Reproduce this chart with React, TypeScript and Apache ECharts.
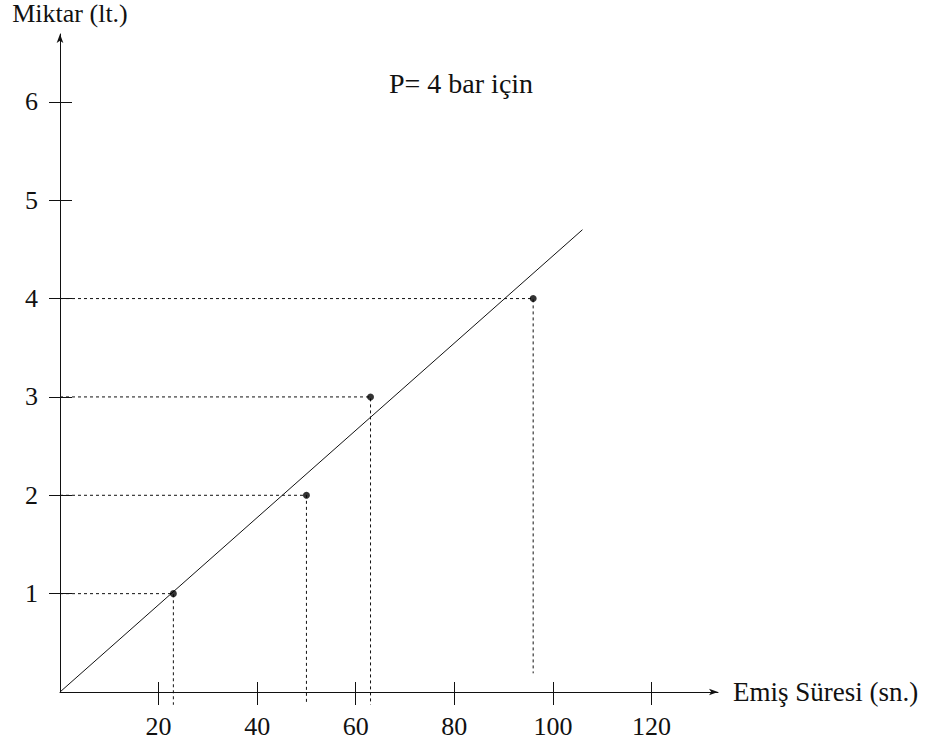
import React, { useEffect, useRef } from "react";
import * as echarts from "echarts";

const xTicks = [20, 40, 60, 80, 100, 120];
const yTicks = [1, 2, 3, 4, 5, 6];
const durations = [23, 50, 63, 96];
const volumes = [1, 2, 3, 4];
const guideBottoms = [-0.13, -0.13, -0.13, 0.19];
const fitX = [0, 106];
const fitY = [0, 4.7];

const titleText = "P= 4 bar için";
const xName = "Emiş Süresi (sn.)";
const yName = "Miktar (lt.)";

const X_MAX = 133.5;
const Y_MAX = 6.69;
const FONT = "Liberation Serif";
const INK = "#111";

export default function App() {
  const ref = useRef<HTMLDivElement>(null);
  useEffect(() => {
    if (!ref.current) return;
    const chart = echarts.init(ref.current, undefined, { renderer: "svg" });

    const guideSeries = durations.map((x, i) => ({
      type: "line",
      xAxisIndex: 0,
      yAxisIndex: 0,
      data: [
        [0, volumes[i]],
        [x, volumes[i]],
        [x, guideBottoms[i]],
      ],
      symbol: "none",
      clip: false,
      silent: true,
      lineStyle: { color: INK, width: 1, type: [3, 3] },
      z: 2,
    }));

    const option: any = {
      animation: false,
      backgroundColor: "#fff",
      textStyle: { fontFamily: FONT, color: INK },
      graphic: [
        {
          type: "text",
          left: 389,
          top: 69,
          style: {
            text: titleText,
            fontFamily: FONT,
            fontSize: 28,
            fontWeight: "normal",
            fill: INK,
          },
        },
      ],
      grid: { left: 60, right: 211, top: 34, bottom: 55, outerBoundsMode: "none" },
      xAxis: [
        {
          type: "value",
          position: "bottom",
          min: 0,
          max: X_MAX,
          name: xName,
          nameLocation: "end",
          nameGap: 15,
          nameTextStyle: { fontFamily: FONT, fontSize: 27, color: INK, verticalAlign: "middle", align: "left" },
          axisLine: {
            show: true,
            symbol: ["none", "arrow"],
            symbolSize: [5, 9],
            lineStyle: { color: INK, width: 1 },
          },
          axisTick: { show: true, inside: false, length: 13, customValues: xTicks, lineStyle: { color: INK, width: 1 } },
          axisLabel: { show: true, customValues: xTicks, margin: 21, fontFamily: FONT, fontSize: 26, color: INK },
          splitLine: { show: false },
        },
        {
          type: "value",
          position: "bottom",
          min: 0,
          max: X_MAX,
          axisLine: { show: false },
          axisTick: { show: true, inside: true, length: 10, customValues: xTicks, lineStyle: { color: INK, width: 1 } },
          axisLabel: { show: false },
          splitLine: { show: false },
        },
      ],
      yAxis: [
        {
          type: "value",
          position: "left",
          min: 0,
          max: Y_MAX,
          name: yName,
          nameLocation: "end",
          nameGap: 8,
          nameTextStyle: { fontFamily: FONT, fontSize: 26, color: INK, padding: [0, 0, 0, 20] },
          axisLine: {
            show: true,
            symbol: ["none", "arrow"],
            symbolSize: [5, 9],
            lineStyle: { color: INK, width: 1 },
          },
          axisTick: { show: true, inside: false, length: 11, customValues: yTicks, lineStyle: { color: INK, width: 1 } },
          axisLabel: { show: true, customValues: yTicks, margin: 22, fontFamily: FONT, fontSize: 26, color: INK },
          splitLine: { show: false },
        },
        {
          type: "value",
          position: "left",
          min: 0,
          max: Y_MAX,
          axisLine: { show: false },
          axisTick: { show: true, inside: true, length: 12, customValues: yTicks, lineStyle: { color: INK, width: 1 } },
          axisLabel: { show: false },
          splitLine: { show: false },
        },
      ],
      series: [
        ...guideSeries,
        {
          type: "line",
          xAxisIndex: 0,
          yAxisIndex: 0,
          data: fitX.map((x, i) => [x, fitY[i]]),
          symbol: "none",
          silent: true,
          lineStyle: { color: INK, width: 1 },
          z: 3,
        },
        {
          type: "scatter",
          xAxisIndex: 0,
          yAxisIndex: 0,
          data: durations.map((x, i) => [x, volumes[i]]),
          symbolSize: 7,
          itemStyle: { color: "#000" },
          z: 4,
        },
      ],
    };

    chart.setOption(option);
    return () => chart.dispose();
  }, []);

  return (
    <div
      ref={ref}
      style={{ position: "fixed", left: 0, top: 0, width: 929, height: 747, background: "#fff" }}
    />
  );
}
